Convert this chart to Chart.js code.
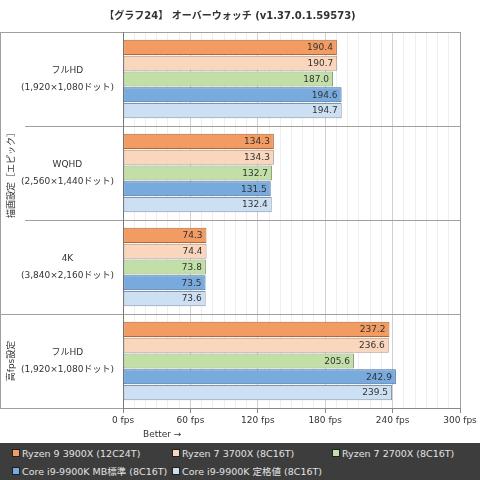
<!DOCTYPE html>
<html>
<head>
<meta charset="utf-8">
<script src="https://cdn.jsdelivr.net/npm/chart.js@4.4.0/dist/chart.umd.min.js"></script>
<style>
  html, body { margin: 0; padding: 0; background: #fff; }
  #wrap { width: 480px; height: 480px; position: relative; overflow: hidden; }
  #chartBox { width: 480px; height: 443px; position: relative; }
  #legend {
    position: absolute; left: 0; top: 443px; width: 480px; height: 37px;
    background: #3d3d3d; display: grid; grid-template-columns: 160px 160px 160px;
    grid-auto-rows: 18px; padding-top: 1px; box-sizing: border-box;
    font: 9.5px "DejaVu Sans", "Noto Sans CJK JP", sans-serif; color: #e2e2e2;
  }
  #legend div { display: flex; align-items: center; padding-left: 12px; white-space: nowrap; }
  #legend span.sw { flex: 0 0 auto; width: 6px; height: 6px; margin-right: 2px; border: 1px solid #222; }
</style>
</head>
<body>
<div id="wrap">
  <div id="chartBox"><canvas id="barChart"></canvas></div>
  <div id="legend"></div>
</div>
<script>
const groups = [
  ['フルHD', '(1,920×1,080ドット)'],
  ['WQHD', '(2,560×1,440ドット)'],
  ['4K', '(3,840×2,160ドット)'],
  ['フルHD', '(1,920×1,080ドット)']
];
const settingGroups = [
  { text: '描画設定［エピック］', from: 0, to: 2 },
  { text: '高fps設定', from: 3, to: 3 }
];
const cpus = [
  'Ryzen 9 3900X (12C24T)',
  'Ryzen 7 3700X (8C16T)',
  'Ryzen 7 2700X (8C16T)',
  'Core i9-9900K MB標準 (8C16T)',
  'Core i9-9900K 定格値 (8C16T)'
];
const ryzen9_3900x  = [190.4, 134.3, 74.3, 237.2];
const ryzen7_3700x  = [190.7, 134.3, 74.4, 236.6];
const ryzen7_2700x  = [187.0, 132.7, 73.8, 205.6];
const i9_9900k_mb   = [194.6, 131.5, 73.5, 242.9];
const i9_9900k_base = [194.7, 132.4, 73.6, 239.5];
const xMax = 300;
const xMajorStep = 60;
const xMinorStep = 10;

const fills   = ['#f29b62', '#fad6bd', '#c2dfa8', '#79aadd', '#cde0f3'];
const borders = ['#b0683a', '#a89384', '#869a76', '#40699a', '#8495a8'];
const FONT = '"DejaVu Sans", "Noto Sans CJK JP", sans-serif';

document.addEventListener('DOMContentLoaded', function(){
  const series = [ryzen9_3900x, ryzen7_3700x, ryzen7_2700x, i9_9900k_mb, i9_9900k_base];

  // frame, outer labels, value labels
  const extras = {
    id: 'extras',
    afterDatasetsDraw(chart) {
      const { ctx, chartArea: a } = chart;
      const h = (a.bottom - a.top) / groups.length;
      ctx.save();

      // value labels inside the bar ends
      ctx.font = '9px ' + FONT;
      ctx.fillStyle = '#333';
      ctx.textAlign = 'right';
      ctx.textBaseline = 'middle';
      chart.data.datasets.forEach((ds, di) => {
        chart.getDatasetMeta(di).data.forEach((bar, i) => {
          ctx.fillText(ds.data[i].toFixed(1), bar.x - 4, bar.y + 0.5);
        });
      });

      // frame around the label column
      ctx.strokeStyle = '#a0a0a0';
      ctx.lineWidth = 1;
      ctx.beginPath();
      ctx.moveTo(0, Math.round(a.top) + 0.5); ctx.lineTo(a.left, Math.round(a.top) + 0.5);
      ctx.moveTo(0, Math.round(a.bottom) + 0.5); ctx.lineTo(a.left, Math.round(a.bottom) + 0.5);
      ctx.moveTo(0.5, a.top); ctx.lineTo(0.5, a.bottom);
      for (let i = 1; i < groups.length; i++) {
        const yy = Math.round(a.top + i * h) + 0.5;
        const outer = settingGroups.some(g => g.from === i);
        ctx.moveTo(outer ? 0 : 25, yy); ctx.lineTo(a.left, yy);
      }
      ctx.stroke();

      // vertical setting labels
      ctx.fillStyle = '#333';
      ctx.textAlign = 'center';
      settingGroups.forEach(g => {
        const cy = a.top + (g.from + g.to + 1) * h / 2;
        ctx.save();
        ctx.translate(12, cy);
        ctx.rotate(-Math.PI / 2);
        ctx.fillText(g.text, 0, 0);
        ctx.restore();
      });

      // axis note
      ctx.textAlign = 'left';
      ctx.fillText('Better →', a.left + 20, a.bottom + 27);
      ctx.restore();
    }
  };

  new Chart(document.getElementById('barChart'), {
    type: 'bar',
    data: {
      labels: groups,
      datasets: cpus.map((name, i) => ({
        label: name,
        data: series[i],
        backgroundColor: fills[i],
        borderColor: borders[i],
        borderWidth: 1,
        borderSkipped: false,
        categoryPercentage: 0.84,
        barPercentage: 0.96
      }))
    },
    options: {
      indexAxis: 'y',
      responsive: true,
      maintainAspectRatio: false,
      animation: false,
      layout: { padding: { left: 0, right: 20, top: 0, bottom: 0 } },
      plugins: {
        legend: { display: false },
        tooltip: { enabled: false },
        title: {
          display: true,
          text: '【グラフ24】 オーバーウォッチ (v1.37.0.1.59573)',
          color: '#333',
          font: { family: FONT, size: 10, weight: 'bold' },
          padding: { top: 10, bottom: 10 }
        }
      },
      scales: {
        x: {
          min: 0,
          max: xMax,
          afterFit: s => { s.height = 35; },
          border: { color: '#888' },
          grid: {
            tickLength: 5,
            color: c => c.tick.value === xMax ? '#a0a0a0' : (c.tick.value % xMajorStep === 0 ? '#d0d0d0' : '#eeeeee'),
            tickColor: c => c.tick.value % xMajorStep === 0 ? '#888' : 'rgba(0,0,0,0)'
          },
          ticks: {
            stepSize: xMinorStep,
            autoSkip: false,
            maxRotation: 0,
            padding: 2,
            color: '#333',
            font: { family: FONT, size: 9 },
            callback: v => v % xMajorStep === 0 ? v + ' fps' : ''
          }
        },
        y: {
          afterFit: s => { s.width = 123; },
          border: { color: '#777' },
          grid: { color: '#a0a0a0', drawTicks: false, offset: true },
          ticks: {
            crossAlign: 'center',
            padding: 9,
            color: '#333',
            font: { family: FONT, size: 9, lineHeight: 1.9 }
          }
        }
      }
    },
    plugins: [extras]
  });

  // legend built from the same arrays
  const legend = document.getElementById('legend');
  cpus.forEach((name, i) => {
    const item = document.createElement('div');
    const sw = document.createElement('span');
    sw.className = 'sw';
    sw.style.background = fills[i];
    item.appendChild(sw);
    item.appendChild(document.createTextNode(name));
    legend.appendChild(item);
  });
});
</script>
</body>
</html>
